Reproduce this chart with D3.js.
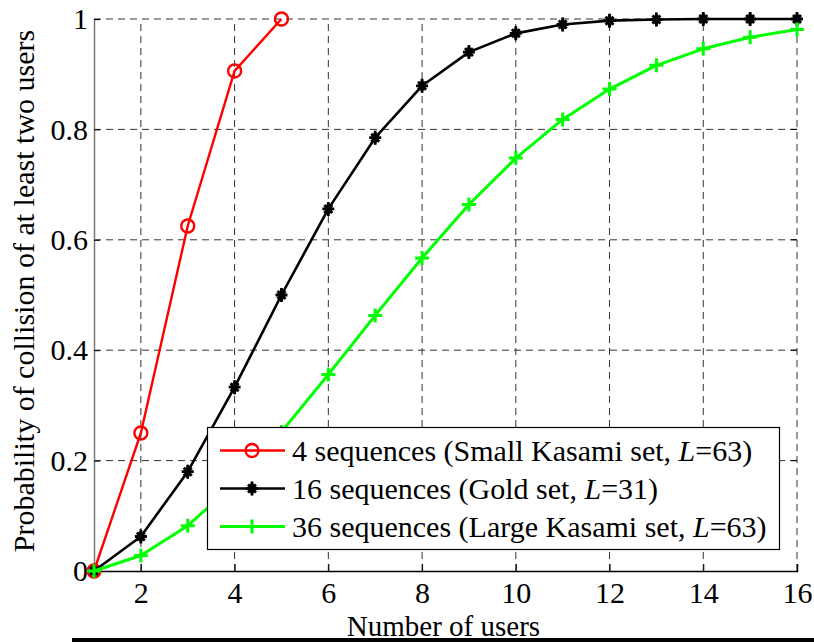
<!DOCTYPE html>
<html lang="en">
<head>
    <meta charset="UTF-8" />
    <title>Collision probability</title>
    <script src="https://d3js.org/d3.v7.min.js"></script>
    <style>
        body { margin: 0; background: #fff; }
        svg text { font-family: "Liberation Serif", "Times New Roman", serif; fill: #000; }
        .grid line { stroke: #333; stroke-width: 1; stroke-dasharray: 7, 5; }
        .tick-lab { font-size: 30px; }
        .legend text { font-size: 30px; }
    </style>
</head>
<body>
<script>
    // number of users
    const users = d3.range(1, 17);
    const small = [0, 0.25, 0.625, 0.906, 1.0];
    const gold = [0, 0.0625, 0.18, 0.333, 0.5, 0.656, 0.785, 0.879, 0.94, 0.974, 0.99, 0.997, 0.999, 1.0, 1.0, 1.0];
    const large = [0, 0.028, 0.082, 0.158, 0.252, 0.356, 0.463, 0.567, 0.664, 0.748, 0.818, 0.873, 0.916, 0.946, 0.967, 0.981];
    const xTicks = [2, 4, 6, 8, 10, 12, 14, 16];
    const yTicks = [0, 0.2, 0.4, 0.6, 0.8, 1];

    const w = 814, h = 642;
    const m = { left: 94, right: 17, top: 19, bottom: 71 };

    const svg = d3.select("body").append("svg")
        .attr("width", w)
        .attr("height", h);

    const x = d3.scaleLinear().domain([1, 16]).range([m.left, w - m.right]);
    const y = d3.scaleLinear().domain([0, 1]).range([h - m.bottom, m.top]);

    // grid
    const grid = svg.append("g").attr("class", "grid");
    grid.selectAll(".gx").data(xTicks).enter().append("line")
        .attr("x1", d => x(d)).attr("x2", d => x(d))
        .attr("y1", y(0)).attr("y2", y(1));
    grid.selectAll(".gy").data(yTicks.filter(d => d > 0)).enter().append("line")
        .attr("x1", x(1)).attr("x2", x(16))
        .attr("y1", d => y(d)).attr("y2", d => y(d));

    // axes (MATLAB style, inward ticks)
    const xAxis = svg.append("g")
        .attr("transform", `translate(0,${y(0)})`)
        .call(d3.axisBottom(x).tickValues(xTicks).tickSize(-7).tickPadding(11).tickFormat(d3.format("d")));
    xAxis.select(".domain").attr("stroke", "#000").attr("stroke-width", 1.5);
    xAxis.selectAll(".tick text").attr("class", "tick-lab").attr("dy", "0.71em");

    const yAxis = svg.append("g")
        .attr("transform", `translate(${x(1)},0)`)
        .call(d3.axisLeft(y).tickValues(yTicks).tickSize(-6).tickPadding(6).tickFormat(d => d === 0 || d === 1 ? d : d.toFixed(1)));
    yAxis.select(".domain").attr("stroke", "#777").attr("stroke-width", 1.5);
    yAxis.selectAll(".tick text").attr("class", "tick-lab");

    // right side small ticks
    svg.append("g").selectAll("line").data(yTicks.filter(d => d > 0)).enter().append("line")
        .attr("x1", x(16) - 6).attr("x2", x(16))
        .attr("y1", d => y(d)).attr("y2", d => y(d))
        .attr("stroke", "#000");

    // labels
    svg.append("text")
        .attr("transform", `translate(34,291) rotate(-90)`)
        .attr("text-anchor", "middle")
        .style("font-size", "30px")
        .text("Probability of collision of at least two users");

    svg.append("text")
        .attr("x", (x(1) + x(16)) / 2 - 2)
        .attr("y", 635.5)
        .attr("text-anchor", "middle")
        .style("font-size", "29px")
        .text("Number of users");

    svg.append("rect")
        .attr("x", 72).attr("y", 638)
        .attr("width", w - 72).attr("height", 4)
        .attr("fill", "#000");

    const line = d3.line().x((d, i) => x(users[i])).y(d => y(d));

    const series = [
        { vals: small, color: "#ff0000", width: 2.4, marker: "o", name: "4 sequences (Small Kasami set, ", tail: "=63)" },
        { vals: gold, color: "#000000", width: 2.6, marker: "*", name: "16 sequences (Gold set, ", tail: "=31)" },
        { vals: large, color: "#00ff00", width: 3, marker: "+", name: "36 sequences (Large Kasami set, ", tail: "=63)" }
    ];

    function drawMarker(g, type, color) {
        if (type === "o") {
            g.append("circle").attr("r", 6.5).attr("fill", "none")
                .attr("stroke", color).attr("stroke-width", 2.4);
        } else if (type === "*") {
            const p = "M-6,0L6,0M0,-7L0,7M-4,-4L4,4M-4,4L4,-4";
            g.append("path").attr("d", p).attr("stroke", color).attr("stroke-width", 2.8);
            g.append("path").attr("d", d3.symbol(d3.symbolDiamond, 60)()).attr("fill", color);
        } else {
            g.append("path").attr("d", "M-7,0L7,0M0,-7L0,7")
                .attr("stroke", color).attr("stroke-width", 3);
        }
    }

    series.forEach(s => {
        svg.append("path")
            .datum(s.vals)
            .attr("fill", "none")
            .attr("stroke", s.color)
            .attr("stroke-width", s.width)
            .attr("stroke-linejoin", "round")
            .attr("d", line);
        s.vals.forEach((v, i) => {
            const g = svg.append("g").attr("transform", `translate(${x(users[i])},${y(v)})`);
            drawMarker(g, s.marker, s.color);
        });
    });

    // legend
    const lg = svg.append("g").attr("class", "legend");
    lg.append("rect")
        .attr("x", 207.5).attr("y", 427.5)
        .attr("width", 572).attr("height", 122)
        .attr("fill", "#fff").attr("stroke", "#000").attr("stroke-width", 1.2);

    series.forEach((s, i) => {
        const row = lg.append("g").attr("transform", `translate(0,${450.5 + i * 38})`);
        row.append("line").attr("x1", 220).attr("x2", 285).attr("y1", 0).attr("y2", 0)
            .attr("stroke", s.color).attr("stroke-width", s.width);
        const mg = row.append("g").attr("transform", "translate(252,0)");
        drawMarker(mg, s.marker, s.color);
        const t = row.append("text").attr("x", 292).attr("dy", "0.35em");
        t.append("tspan").text(s.name);
        t.append("tspan").style("font-style", "italic").text("L");
        t.append("tspan").text(s.tail);
    });
</script>
</body>
</html>
